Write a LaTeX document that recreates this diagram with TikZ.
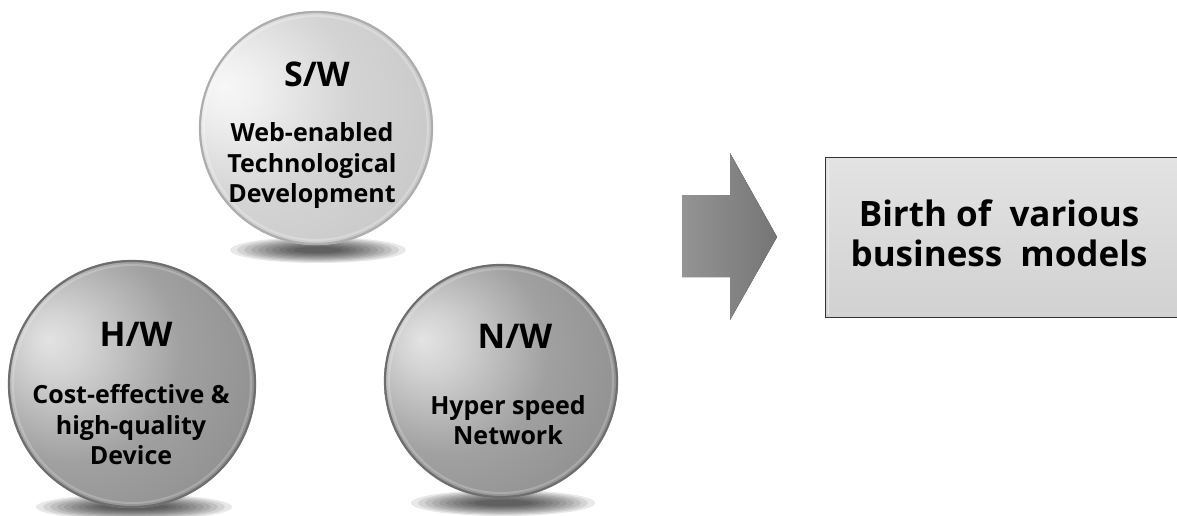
\documentclass[tikz,border=0pt]{standalone}
\usepackage{fontspec}
\setmainfont{Open Sans}

% glossy sphere shadings, light source at the upper left
\pgfdeclareradialshading{lightsphere}{\pgfpoint{-20bp}{9bp}}{%
  color(0bp)=(black!3); color(6bp)=(black!6); color(22bp)=(black!17);
  color(40bp)=(black!22); color(60bp)=(black!27); color(75bp)=(black!31)}
\pgfdeclareradialshading{darksphere}{\pgfpoint{-17bp}{9bp}}{%
  color(0bp)=(black!11); color(6bp)=(black!17); color(22bp)=(black!37);
  color(40bp)=(black!45); color(60bp)=(black!49); color(75bp)=(black!53)}

\tikzset{
  sphere/.style={circle, inner sep=0, minimum size=#1},
  rim/.style={line width=2.2, draw=black!#1},
  title/.style={font=\fontsize{34}{40}\selectfont\bfseries, inner sep=0, anchor=base},
  desc/.style={font=\fontsize{25}{30.5}\selectfont\bfseries, align=center, inner sep=0},
  shadowlayer/.style={fill=black, opacity=0.09},
}
% soft cast shadow built from stacked translucent ellipses
\newcommand\castshadow[4]{%
  \foreach \k in {0,...,9}
    \fill[shadowlayer] (#1,#2) ellipse [x radius={#3-7*\k}, y radius={#4-1.1*\k}];}

\begin{document}
\begin{tikzpicture}[x=1pt, y=-1pt]
\useasboundingbox (0,0) rectangle (1177,516);
\clip (0,0) rectangle (1177,516);
\fill[white] (0,0) rectangle (1177,516);

% cast shadows below the spheres
\castshadow{318}{250}{88}{13}
\castshadow{134}{507}{98}{13}
\castshadow{503}{503}{92}{13}

% spheres
\node[sphere=234, shading=lightsphere] (sw) at (316,128) {};
\node[sphere=248, shading=darksphere] (hw) at (132,384) {};
\node[sphere=234, shading=darksphere] (nw) at (501,381) {};
\draw[rim=32] (sw.center) circle (116);
\draw[rim=57] (hw.center) circle (123);
\draw[rim=57] (nw.center) circle (116);
\draw[white, opacity=0.25, line width=2] (sw.center) circle (112);
\draw[white, opacity=0.2, line width=2] (hw.center) circle (119);
\draw[white, opacity=0.2, line width=2] (nw.center) circle (112);

% sphere labels
\node[title] (sw-title) at (317,87) {S/W};
\node[desc] (sw-text) at (312,166) {Web-enabled\\Technological\\Development};
\node[title] (hw-title) at (136,346) {H/W};
\node[desc] (hw-text) at (131,425) {Cost-effective \&\\high-quality\\Device};
\node[title] (nw-title) at (515,348) {N/W};
\node[desc] (nw-text) at (508,420) {Hyper speed\\Network};

% block arrow
\fill[left color=black!42, right color=black!54]
  (682,195) -- (730,195) -- (730,153) -- (777,237) -- (730,320) -- (730,277) -- (682,277) -- cycle;

% result box (its right side runs off the edge)
\node[anchor=north west, minimum width=420, minimum height=160, inner sep=0,
      top color=black!11, bottom color=black!18, draw=black!80, line width=1.3] (res) at (825,157) {};
\draw[white, opacity=0.5, line width=1] (828,160) -- (828,314);
\node[font=\fontsize{35}{40}\selectfont\bfseries, align=center, inner sep=0] (res-text) at (999,233)
  {Birth of\ \ various\\business\ \ models};
\end{tikzpicture}
\end{document}
